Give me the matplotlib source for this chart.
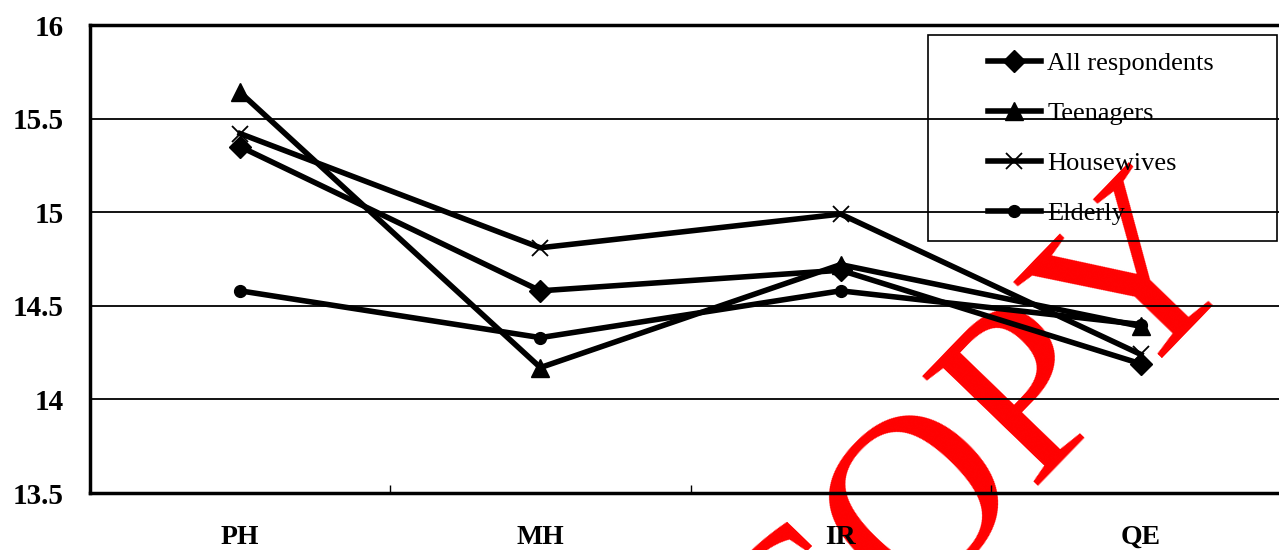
import matplotlib
matplotlib.use("Agg")
import matplotlib.pyplot as plt
from matplotlib.patches import Rectangle
import numpy as np

# データ
categories = ["PH", "MH", "IR", "QE"]
all_respondents = [15.35, 14.58, 14.69, 14.19]
teenagers = [15.64, 14.17, 14.72, 14.39]
housewives = [15.42, 14.81, 14.99, 14.24]
elderly = [14.58, 14.33, 14.58, 14.40]
y_ticks = [13.5, 14, 14.5, 15, 15.5, 16]
y_labels = ["13.5", "14", "14.5", "15", "15.5", "16"]

W, H = 1279, 550
fig = plt.figure(figsize=(W / 100, H / 100), dpi=100)

# 軸の位置 (ピクセルから)
ax_l, ax_r, ax_t, ax_b = 90, 1291, 25, 493
ax = fig.add_axes([ax_l / W, 1 - ax_b / H, (ax_r - ax_l) / W, (ax_b - ax_t) / H])
ax.patch.set_alpha(0)

x = np.arange(len(categories))
lw = 4.0
series = [
    ("All respondents", all_respondents, dict(marker="D", ms=11)),
    ("Teenagers", teenagers, dict(marker="^", ms=13)),
    ("Housewives", housewives, dict(marker="x", ms=12, mew=1.3)),
    ("Elderly", elderly, dict(marker="o", ms=8.5)),
]
for name, vals, st in series:
    ax.plot(x, vals, color="black", lw=lw, label=name, **st)

ax.set_xlim(-0.5, 3.5)
ax.set_ylim(13.5, 16)

# グリッド
ax.set_yticks(y_ticks)
ax.set_yticklabels(y_labels, fontfamily="Liberation Serif", fontweight="bold", fontsize=21)
ax.tick_params(axis="y", length=0, pad=19)
ax.yaxis.grid(True, color="black", lw=1.3)
ax.set_axisbelow(True)

ax.set_xticks([0.5, 1.5, 2.5])
ax.set_xticklabels([])
ax.tick_params(axis="x", which="major", direction="in", length=6, width=1, color="black")
ax.set_xticks(x, minor=True)
ax.set_xticklabels(categories, minor=True, fontfamily="Liberation Serif",
                   fontweight="bold", fontsize=20)
ax.tick_params(axis="x", which="minor", length=0, pad=23)

for s in ["left", "bottom", "top"]:
    ax.spines[s].set_linewidth(2.5)
ax.spines["right"].set_visible(False)

# 凡例
fig.patches.append(Rectangle((928 / W, 1 - 241 / H), 349 / W, 206 / H,
                             transform=fig.transFigure, fill=False,
                             ec="black", lw=1.2, zorder=5))
leg = ax.legend(loc="upper left", bbox_to_anchor=(988 / W, 1 - 52 / H),
                bbox_transform=fig.transFigure, frameon=False,
                borderpad=0, borderaxespad=0, handlelength=2.0,
                handletextpad=0.25, labelspacing=1.0,
                prop={"family": "Liberation Serif", "size": 19})

# 透かし
fig.text(796 / W, 1 - 728 / H, "COPY", color="#ff0000", fontsize=175,
         fontfamily="Liberation Serif", rotation=46, rotation_mode="anchor",
         ha="left", va="baseline", zorder=-1)

fig.savefig("out.png", dpi=100)
